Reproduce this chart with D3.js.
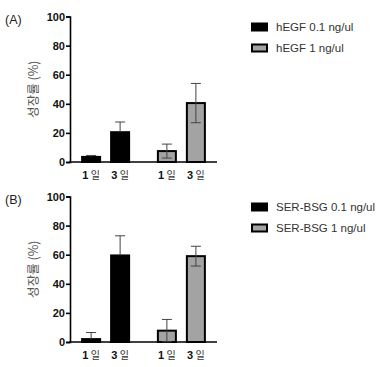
<!DOCTYPE html>
<html>
<head>
<meta charset="utf-8">
<script src="https://cdn.jsdelivr.net/npm/d3@7"></script>
<style>
  body { margin: 0; background: #fff; }
  text { font-family: "Liberation Sans", Arial, sans-serif; }
</style>
</head>
<body>
<div id="chart"></div>
<script>
// chart values
var days = ["1", "3"];
var dayUnit = "일";
var yTicks = [0, 20, 40, 60, 80, 100];

var panelLabels = ["(A)", "(B)"];
var seriesA = ["hEGF 0.1 ng/ul", "hEGF 1 ng/ul"];
var seriesB = ["SER-BSG 0.1 ng/ul", "SER-BSG 1 ng/ul"];
var meanA = [[3.5, 20.5], [7.5, 40.5]];
var errA = [[1, 7], [4.8, 13.5]];
var meanB = [[2, 59.5], [7.8, 59]];
var errB = [[4.5, 13.5], [7.7, 6.8]];
var fills = ["#000000", "#a3a3a3"];

var width = 385, height = 367;
var svg = d3.select("#chart").append("svg")
  .attr("width", width)
  .attr("height", height);

var panels = [
  { label: panelLabels[0], series: seriesA, mean: meanA, err: errA, top: 0 },
  { label: panelLabels[1], series: seriesB, mean: meanB, err: errB, top: 180 }
];

var axisLeft = 70, axisRight = 217;

// groups = concentrations, inside each group = days
var x0 = d3.scalePoint().domain([0, 1]).range([axisLeft, axisRight]).padding(0.47);
var x1 = d3.scaleBand().domain(days).range([-24.5, 24.5]).paddingInner(0.31);

panels.forEach(function (p) {
  var g = svg.append("g").attr("transform", "translate(0," + p.top + ")");

  var y = d3.scaleLinear().domain([0, 100]).range([162, 16.5]);

  g.append("text")
    .attr("x", 5).attr("y", 24)
    .style("font-size", "12.5px").style("fill", "#222")
    .text(p.label);

  // y axis
  var yAxis = g.append("g")
    .attr("transform", "translate(" + axisLeft + ",0)")
    .call(d3.axisLeft(y).tickValues(yTicks).tickSize(4).tickPadding(1));
  yAxis.select(".domain").attr("stroke", "#000").attr("stroke-width", 1.6);
  yAxis.selectAll(".tick line").attr("stroke", "#000").attr("stroke-width", 1.6);
  yAxis.selectAll(".tick text")
    .style("font-size", "11px").style("font-weight", "bold")
    .style("font-family", "'Liberation Sans', Arial, sans-serif")
    .attr("fill", "#111");

  // x axis line
  g.append("line")
    .attr("x1", axisLeft - 0.8).attr("x2", axisRight)
    .attr("y1", y(0)).attr("y2", y(0))
    .attr("stroke", "#000").attr("stroke-width", 1.6);

  g.append("text")
    .attr("transform", "translate(38," + ((y(0) + y(100)) / 2) + ") rotate(-90)")
    .attr("text-anchor", "middle")
    .style("font-family", "'Noto Sans CJK KR', sans-serif")
    .style("font-size", "12.5px").style("fill", "#555")
    .text("성장률 (%)");

  // bars
  p.mean.forEach(function (vals, si) {
    vals.forEach(function (v, di) {
      var cx = x0(si) + x1(days[di]) + x1.bandwidth() / 2;
      var bx = x0(si) + x1(days[di]);
      var e = p.err[si][di];

      g.append("rect")
        .attr("x", bx + 1).attr("y", y(v))
        .attr("width", x1.bandwidth() - 2).attr("height", y(0) - y(v))
        .attr("fill", fills[si])
        .attr("stroke", "#000").attr("stroke-width", 2);

      var lo = Math.max(0, v - e), hi = v + e;
      var eg = g.append("g").attr("stroke", si === 0 ? "#000" : "#444").attr("stroke-width", 1);
      eg.append("line").attr("x1", cx).attr("x2", cx).attr("y1", y(lo)).attr("y2", y(v));
      eg.append("line").attr("x1", cx).attr("x2", cx).attr("y1", y(v)).attr("y2", y(hi)).attr("stroke", "#444");
      eg.append("line").attr("x1", cx - 5).attr("x2", cx + 5).attr("y1", y(hi)).attr("y2", y(hi)).attr("stroke", "#444");
      if (v - e > 0) {
        eg.append("line").attr("x1", cx - 5).attr("x2", cx + 5).attr("y1", y(lo)).attr("y2", y(lo));
      }

      var t = g.append("text")
        .attr("x", cx).attr("y", 179)
        .attr("text-anchor", "middle")
        .style("fill", "#111");
      t.append("tspan").style("font-weight", "bold").style("font-size", "11px").text(days[di]);
      t.append("tspan")
        .style("font-family", "'Noto Sans CJK KR', sans-serif")
        .style("font-size", "10px").style("fill", "#333")
        .text(" " + dayUnit);
    });
  });

  // legend
  p.series.forEach(function (s, si) {
    var ly = 27 + si * 21;
    g.append("rect")
      .attr("x", 252).attr("y", ly - 3.5)
      .attr("width", 15).attr("height", 7)
      .attr("fill", fills[si])
      .attr("stroke", "#000").attr("stroke-width", 2);
    g.append("text")
      .attr("x", 276).attr("y", ly + 4)
      .style("font-size", "11.5px").style("fill", "#333")
      .text(s);
  });
});
</script>
</body>
</html>
